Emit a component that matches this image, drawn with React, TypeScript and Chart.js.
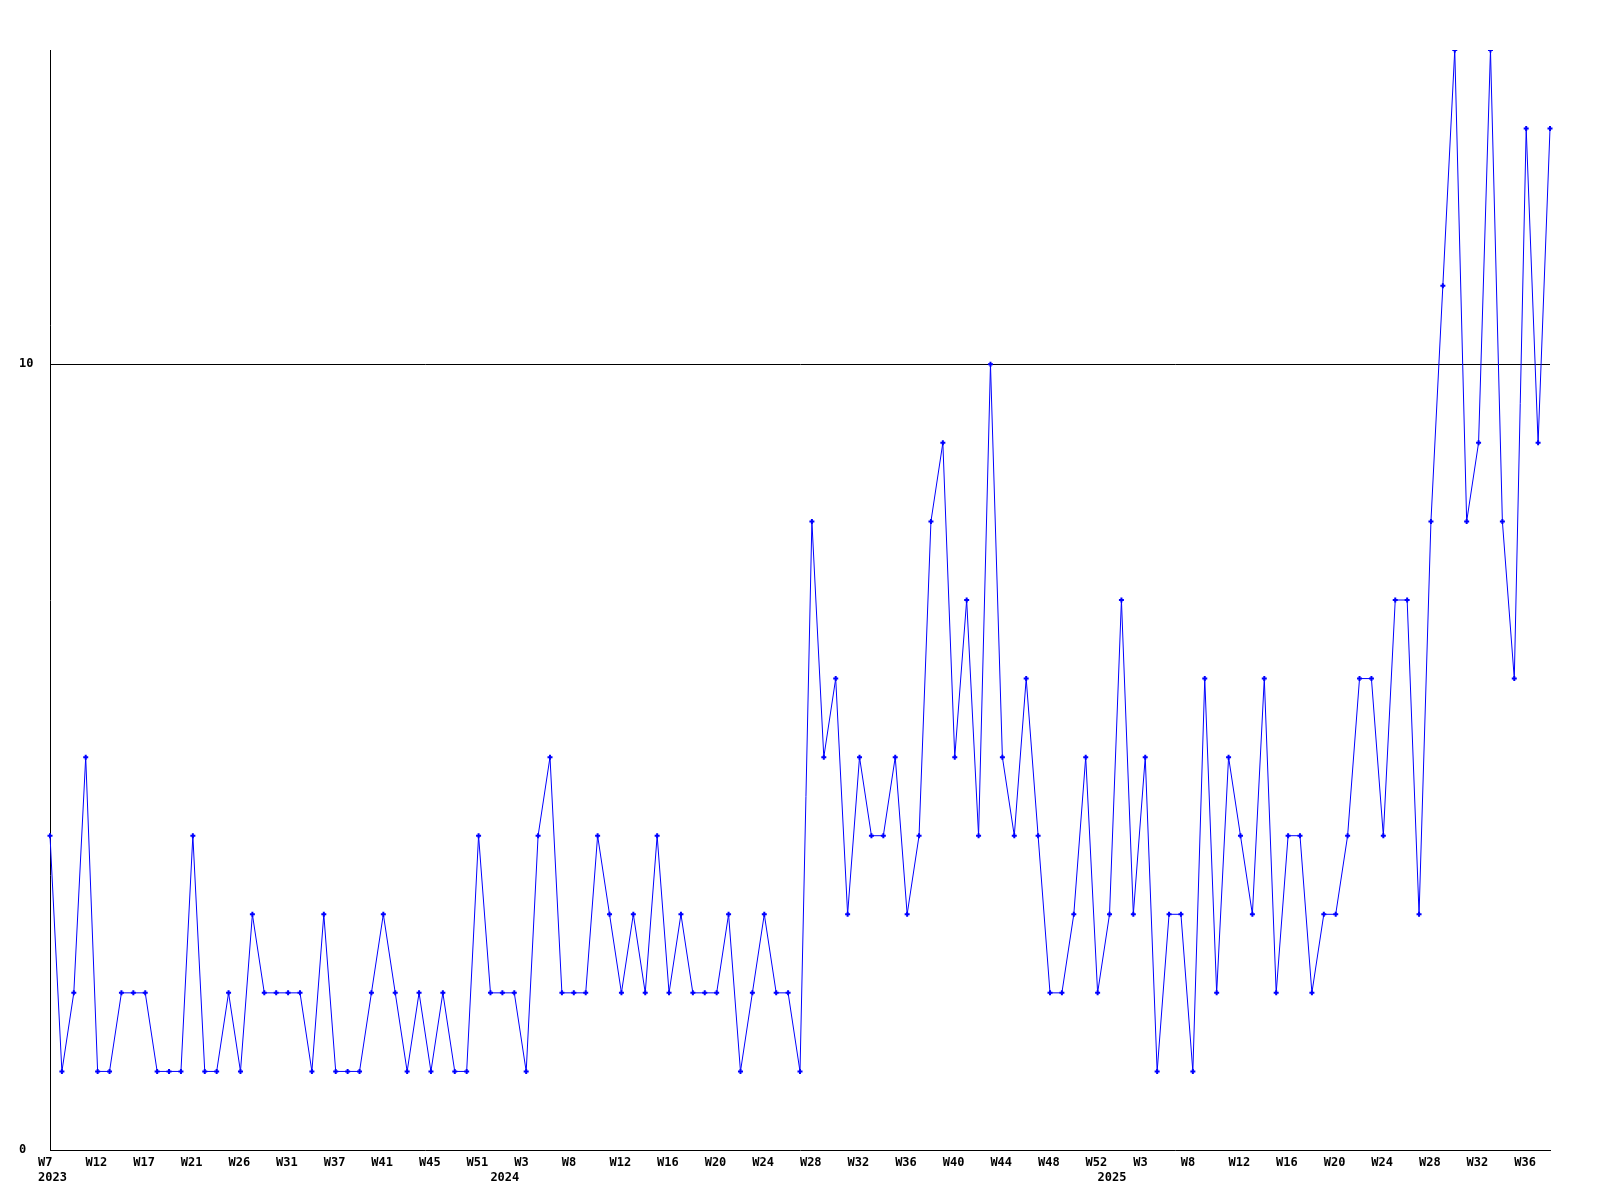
import React, { useEffect, useRef } from "react";
import { Chart, registerables } from "chart.js";

Chart.register(...registerables);

// Weekly counts, one per point, 2023 W7 .. 2025 W38
const values = [
  4, 1, 2, 5, 1, 1, 2, 2, 2, 1,
  1, 1, 4, 1, 1, 2, 1, 3, 2, 2,
  2, 2, 1, 3, 1, 1, 1, 2, 3, 2,
  1, 2, 1, 2, 1, 1, 4, 2, 2, 2,
  1, 4, 5, 2, 2, 2, 4, 3, 2, 3,
  2, 4, 2, 3, 2, 2, 2, 3, 1, 2,
  3, 2, 2, 1, 8, 5, 6, 3, 5, 4,
  4, 5, 3, 4, 8, 9, 5, 7, 4, 10,
  5, 4, 6, 4, 2, 2, 3, 5, 2, 3,
  7, 3, 5, 1, 3, 3, 1, 6, 2, 5,
  4, 3, 6, 2, 4, 4, 2, 3, 3, 4,
  6, 6, 4, 7, 7, 3, 8, 11, 14, 8,
  9, 14, 8, 6, 13, 9, 13,
];

// Week tick labels, shown on every 4th point
const weekTickLabels = [
  "W7", "W12", "W17", "W21", "W26", "W31", "W37", "W41", "W45", "W51",
  "W3", "W8", "W12", "W16", "W20", "W24", "W28", "W32", "W36", "W40",
  "W44", "W48", "W52", "W3", "W8", "W12", "W16", "W20", "W24", "W28",
  "W32", "W36",
];
const weekTickEvery = 4;

// Year labels and the point index where each year starts
const yearLabels = ["2023", "2024", "2025"];
const yearLabelIndex = [0, 38, 89];

// Y axis
const yMin = 0;
const yMax = 14;
const yTickValues = [0, 10];

const categories = values.map((_, i) => String(i));

const FONT_FAMILY = "'DejaVu Sans Mono', 'Liberation Mono', monospace";

const xLabelPlugin = {
  id: "xLabelPlugin",
  afterDraw(chart: any) {
    const { ctx, scales } = chart;
    const x = scales.x;
    const bottom = chart.chartArea.bottom;
    ctx.save();
    ctx.font = "bold 12px " + FONT_FAMILY;
    ctx.fillStyle = "#000000";
    ctx.textAlign = "left";
    ctx.textBaseline = "middle";
    weekTickLabels.forEach((label, i) => {
      const px = x.getPixelForValue(i * weekTickEvery);
      ctx.fillText(label, px - 12, bottom + 13);
    });
    yearLabels.forEach((label, i) => {
      const px = x.getPixelForValue(yearLabelIndex[i]);
      ctx.fillText(label, px - 12, bottom + 28);
    });
    ctx.restore();
  },
};

export default function App() {
  const canvasRef = useRef<HTMLCanvasElement | null>(null);

  useEffect(() => {
    document.body.style.margin = "0";
    const canvas = canvasRef.current;
    if (!canvas) return;
    const font = { family: FONT_FAMILY, size: 12, weight: "bold" as const };
    const chart = new Chart(canvas, {
      type: "line",
      data: {
        labels: categories,
        datasets: [
          {
            data: values,
            borderColor: "#0000ff",
            backgroundColor: "#0000ff",
            borderWidth: 1,
            tension: 0,
            pointStyle: "cross",
            pointRadius: 2.5,
            pointBorderWidth: 2,
            pointBorderColor: "#0000ff",
            pointBackgroundColor: "#0000ff",
            fill: false,
          },
        ],
      },
      options: {
        animation: false,
        responsive: true,
        maintainAspectRatio: false,
        layout: { padding: { left: 19, top: 50, right: 50, bottom: 0 } },
        plugins: { legend: { display: false }, tooltip: { enabled: false } },
        scales: {
          x: {
            type: "category",
            offset: false,
            grid: { display: false, drawTicks: false },
            border: { display: true, color: "#000000", width: 1 },
            afterFit: (scale: any) => {
              scale.height = 50;
            },
            ticks: { display: false },
          },
          y: {
            min: yMin,
            max: yMax,
            afterBuildTicks: (scale: any) => {
              scale.ticks = yTickValues.map((v) => ({ value: v }));
            },
            afterFit: (scale: any) => {
              scale.width = 31;
            },
            grid: {
              drawTicks: false,
              color: (ctx: any) => (ctx.tick && ctx.tick.value === 10 ? "#000000" : "rgba(0,0,0,0)"),
              lineWidth: 1,
            },
            border: { display: true, color: "#000000", width: 1 },
            ticks: {
              crossAlign: "far",
              color: "#000000",
              font,
              callback: (v: any) => String(v),
            },
          },
        },
      },
      plugins: [xLabelPlugin],
    });
    return () => chart.destroy();
  }, []);

  return (
    <div style={{ width: "1600px", height: "1200px", position: "relative", background: "#ffffff" }}>
      <canvas ref={canvasRef} />
    </div>
  );
}
